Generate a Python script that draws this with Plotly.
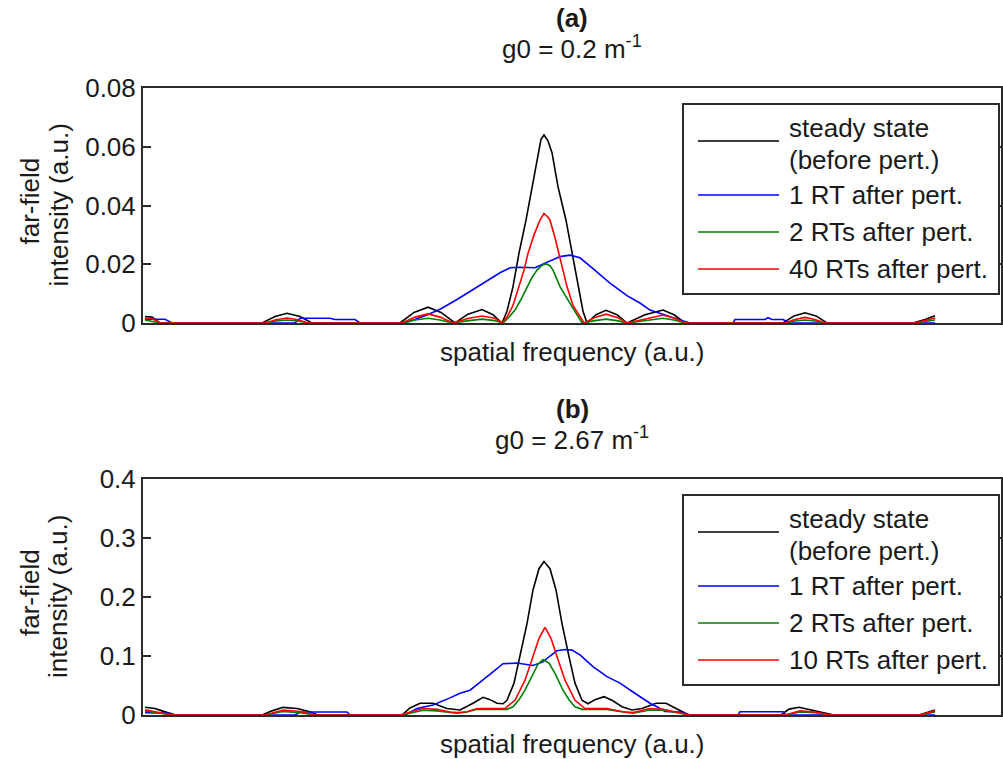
import plotly.graph_objects as go

# ---------------------------------------------------------------------------
# Far-field intensity profiles (arbitrary spatial-frequency units, 0 = beam axis)
# ---------------------------------------------------------------------------

# (a) g0 = 0.2 m^-1
steady_a_f = [-399, -392, -384, -282, -269, -257, -244, -232, -144, -130, -116, -103, -89,
              -76, -62, -51, -42, -37, -31, -25, -18, -12, -6, -3, 0, 4, 8, 14, 22, 28, 34,
              39, 43, 52, 62, 73, 83, 101, 119, 130, 141, 239, 250, 261, 272, 283, 369, 381, 391]
steady_a_i = [0.0022, 0.0020, 0, 0, 0.0022, 0.0033, 0.0022, 0, 0, 0.0036, 0.0054, 0.0036, 0,
              0.0030, 0.0046, 0.0028, 0, 0.004, 0.0124, 0.0238, 0.035, 0.0464, 0.058, 0.0625,
              0.064, 0.062, 0.058, 0.0464, 0.035, 0.0238, 0.0124, 0.004, 0, 0.0028, 0.0043,
              0.0028, 0, 0.0028, 0.0044, 0.0028, 0, 0, 0.0024, 0.0035, 0.0024, 0, 0, 0.0012,
              0.0025]

rt1_a_f = [-399, -379, -372, -249, -244, -214, -209, -189, -184, -139, -117, -104, -87, -71,
           -57, -44, -34, -24, -9, 3, 16, 26, 36, 49, 66, 83, 96, 106, 116, 126, 136, 146,
           189, 191, 221, 224, 228, 239, 246, 391]
rt1_a_i = [0.0013, 0.0013, 0, 0, 0.0016, 0.0016, 0.0012, 0.0012, 0, 0, 0.0027, 0.0047,
           0.0080, 0.0114, 0.0146, 0.0171, 0.0188, 0.0190, 0.0188, 0.0205, 0.0226, 0.0231,
           0.0222, 0.0185, 0.0136, 0.0093, 0.0068, 0.0044, 0.0032, 0.0020, 0.0010, 0, 0,
           0.0012, 0.0012, 0.0018, 0.0012, 0.0012, 0, 0]

rt2_a_f = [-399, -384, -279, -268, -257, -246, -236, -142, -129, -116, -104, -91, -75, -62,
           -49, -41, -35, -29, -23, -17, -12, -7, -2, 2, 6, 9, 13, 16, 21, 26, 32, 38, 51, 62,
           73, 83, 106, 119, 130, 141, 241, 251, 261, 271, 281, 371, 391]
rt2_a_i = [0.0010, 0, 0, 0.0007, 0.0010, 0.0007, 0, 0, 0.0010, 0.0016, 0.0010, 0, 0.0008,
           0.0013, 0.0008, 0, 0.002, 0.0044, 0.0080, 0.0124, 0.0155, 0.0180, 0.0197, 0.0201,
           0.0195, 0.0180, 0.0150, 0.0124, 0.0095, 0.0068, 0.0035, 0, 0.0008, 0.0013, 0.0008,
           0, 0.0010, 0.0016, 0.0010, 0, 0, 0.0007, 0.0010, 0.0007, 0, 0, 0.0010]

rt40_a_f = [-399, -392, -384, -279, -268, -257, -246, -236, -142, -129, -116, -104, -91, -75,
            -62, -49, -42, -37, -31, -25, -20, -16, -10, -4, 0, 4, 6, 11, 15, 19, 23, 29, 36,
            40, 51, 62, 73, 83, 106, 119, 130, 141, 241, 251, 261, 271, 281, 371, 391]
rt40_a_i = [0.0017, 0.0015, 0, 0, 0.0011, 0.0017, 0.0011, 0, 0, 0.0020, 0.0031, 0.0020, 0,
            0.0016, 0.0024, 0.0016, 0, 0.002, 0.006, 0.0124, 0.018, 0.0237, 0.030, 0.035,
            0.0373, 0.036, 0.035, 0.029, 0.0237, 0.018, 0.0124, 0.006, 0.002, 0, 0.0019,
            0.0030, 0.0019, 0, 0.0017, 0.0027, 0.0017, 0, 0, 0.0012, 0.0019, 0.0012, 0, 0,
            0.0017]

# (b) g0 = 2.67 m^-1
steady_b_f = [-399, -389, -382, -369, -282, -272, -261, -247, -234, -226, -142, -134, -124,
              -111, -97, -84, -71, -61, -54, -47, -41, -37, -30, -24, -17, -11, -5, 0, 6, 12,
              18, 25, 31, 38, 44, 51, 60, 68, 78, 88, 98, 112, 122, 135, 145, 237, 245, 255,
              268, 282, 290, 375, 391]
steady_b_i = [0.013, 0.011, 0.007, 0, 0, 0.007, 0.013, 0.011, 0.0056, 0, 0, 0.012, 0.020,
              0.020, 0.011, 0.0085, 0.020, 0.030, 0.026, 0.020, 0.019, 0.025, 0.054, 0.099,
              0.155, 0.212, 0.248, 0.260, 0.248, 0.212, 0.155, 0.099, 0.054, 0.025, 0.019,
              0.026, 0.031, 0.025, 0.014, 0.0085, 0.011, 0.020, 0.020, 0.0085, 0, 0, 0.010,
              0.013, 0.0085, 0.004, 0, 0, 0.0085]

rt1_b_f = [-399, -374, -369, -249, -244, -197, -194, -139, -127, -111, -94, -84, -74, -61,
           -51, -41, -27, -11, -1, 6, 13, 21, 28, 36, 49, 63, 76, 89, 106, 113, 121, 136, 146,
           194, 196, 239, 242, 391]
rt1_b_i = [0.004, 0.003, 0, 0, 0.005, 0.005, 0, 0, 0.011, 0.017, 0.029, 0.037, 0.042, 0.059,
           0.073, 0.087, 0.088, 0.084, 0.090, 0.100, 0.109, 0.111, 0.110, 0.102, 0.082,
           0.065, 0.054, 0.039, 0.020, 0.014, 0.006, 0.005, 0, 0, 0.0056, 0.0056, 0, 0]

rt2_b_f = [-399, -384, -372, -279, -261, -244, -229, -142, -132, -121, -107, -87, -77, -67,
           -44, -37, -31, -25, -19, -11, -6, -1, 5, 11, 19, 25, 31, 38, 63, 79, 89, 106, 119,
           136, 146, 241, 256, 271, 286, 376, 391]
rt2_b_i = [0.007, 0.003, 0, 0, 0.006, 0.004, 0, 0, 0.004, 0.008, 0.007, 0.003, 0.005, 0.0096,
           0.0096, 0.0096, 0.014, 0.026, 0.042, 0.0706, 0.086, 0.094, 0.088, 0.0706, 0.042,
           0.026, 0.014, 0.0096, 0.0096, 0.005, 0.003, 0.0085, 0.008, 0.003, 0, 0, 0.005,
           0.004, 0, 0, 0.005]

rt10_b_f = [-399, -384, -372, -279, -261, -244, -229, -144, -132, -121, -107, -94, -87, -77,
            -67, -47, -39, -29, -19, -11, -5, 1, 7, 13, 21, 31, 41, 63, 79, 89, 106, 119, 136,
            146, 241, 256, 271, 286, 376, 391]
rt10_b_i = [0.009, 0.004, 0, 0, 0.0085, 0.006, 0, 0, 0.006, 0.011, 0.0096, 0.005, 0.004,
            0.0056, 0.011, 0.011, 0.011, 0.025, 0.059, 0.099, 0.130, 0.1486, 0.130, 0.099,
            0.059, 0.025, 0.011, 0.011, 0.0056, 0.004, 0.011, 0.0096, 0.004, 0, 0, 0.007,
            0.005, 0, 0, 0.007]

panel_a_labels = ["steady state<br>(before pert.)", "1 RT after pert.",
                  "2 RTs after pert.", "40 RTs after pert."]
panel_b_labels = ["steady state<br>(before pert.)", "1 RT after pert.",
                  "2 RTs after pert.", "10 RTs after pert."]
panel_a_ticks = [0, 0.02, 0.04, 0.06, 0.08]
panel_a_ticktext = ["0", "0.02", "0.04", "0.06", "0.08"]
panel_b_ticks = [0, 0.1, 0.2, 0.3, 0.4]
panel_b_ticktext = ["0", "0.1", "0.2", "0.3", "0.4"]

# ---------------------------------------------------------------------------
# Figure geometry and styling
# ---------------------------------------------------------------------------
W, H = 1003, 759
FONT = "Liberation Sans, Arial, sans-serif"
INK = "#1a1a1a"
AXIS = "#2b2b2b"
COLORS = ["#000000", "#0000ff", "#008000", "#ff0000"]
FS = 26

def px(x):
    return x / W

def py(y):
    return 1 - y / H

PLOT_L, PLOT_R = 143, 1001
PANELS = [  # top, bottom pixel rows of each plotting box
    (88, 323),
    (479, 715),
]

fig = go.Figure()

series_a = [(steady_a_f, steady_a_i), (rt1_a_f, rt1_a_i), (rt2_a_f, rt2_a_i), (rt40_a_f, rt40_a_i)]
series_b = [(steady_b_f, steady_b_i), (rt1_b_f, rt1_b_i), (rt2_b_f, rt2_b_i), (rt10_b_f, rt10_b_i)]

for (f, i), name, c in zip(series_a, panel_a_labels, COLORS):
    fig.add_trace(go.Scatter(x=f, y=i, mode="lines", name=name.replace("<br>", " "),
                             line=dict(color=c, width=1.6), xaxis="x", yaxis="y",
                             showlegend=False))
for (f, i), name, c in zip(series_b, panel_b_labels, COLORS):
    fig.add_trace(go.Scatter(x=f, y=i, mode="lines", name=name.replace("<br>", " "),
                             line=dict(color=c, width=1.6), xaxis="x2", yaxis="y2",
                             showlegend=False))

xr = [PLOT_L - 544, PLOT_R - 544]
common_x = dict(range=xr, showticklabels=False, ticks="", showgrid=False, zeroline=False,
                showline=True, linecolor=AXIS, linewidth=2, mirror=True, automargin=False,
                domain=[px(PLOT_L), px(PLOT_R)])
common_y = dict(showgrid=False, zeroline=False, showline=True, linecolor=AXIS, linewidth=2,
                mirror="ticks", ticks="inside", ticklen=8, tickwidth=1.5, tickcolor=AXIS,
                automargin=False, tickfont=dict(family=FONT, size=FS, color=INK))

fig.update_layout(
    width=W, height=H, margin=dict(l=0, r=0, t=0, b=0, pad=0, autoexpand=False),
    paper_bgcolor="white", plot_bgcolor="white", showlegend=False,
    xaxis=dict(**common_x, anchor="y"),
    yaxis=dict(**common_y, range=[0, 0.08], tickvals=panel_a_ticks, ticktext=panel_a_ticktext,
               domain=[py(PANELS[0][1]), py(PANELS[0][0])], anchor="x"),
    xaxis2=dict(**common_x, anchor="y2"),
    yaxis2=dict(**common_y, range=[0, 0.4], tickvals=panel_b_ticks, ticktext=panel_b_ticktext,
                domain=[py(PANELS[1][1]), py(PANELS[1][0])], anchor="x2"),
)

annotations = []
shapes = []

def text(x, y, s, size=FS, angle=0, xanchor="center", bold=False):
    annotations.append(dict(
        x=px(x), y=py(y), xref="paper", yref="paper", text=f"<b>{s}</b>" if bold else s,
        showarrow=False, xanchor=xanchor, yanchor="middle", textangle=angle,
        font=dict(family=FONT, size=size, color=INK)))

titles = [("(a)", "g0 = 0.2 m<sup>-1</sup>"), ("(b)", "g0 = 2.67 m<sup>-1</sup>")]
cx = (PLOT_L + PLOT_R) / 2
for (top, bottom), (t1, t2), labels in zip(PANELS, titles, [panel_a_labels, panel_b_labels]):
    text(cx, top - 70, t1, size=FS, bold=True)
    text(cx, top - 41, t2)
    text(cx, bottom + 29, "spatial frequency (a.u.)")
    mid = (top + bottom) / 2
    text(30, mid - 4, "far-field", angle=-90)
    text(58, mid, "intensity (a.u.)", angle=-90)

    # legend box
    shapes.append(dict(type="rect", xref="paper", yref="paper",
                       x0=px(683), x1=px(999), y0=py(top + 16), y1=py(top + 206),
                       line=dict(color=AXIS, width=2), fillcolor="white", layer="above"))
    rows = [top + 53, top + 107, top + 144, top + 181]
    for k, (label, c, ry) in enumerate(zip(labels, COLORS, rows)):
        shapes.append(dict(type="line", xref="paper", yref="paper",
                           x0=px(698), x1=px(779), y0=py(ry), y1=py(ry),
                           line=dict(color=c, width=1.6), layer="above"))
        if k == 0:
            first, second = label.split("<br>")
            text(787, ry - 13, first, xanchor="left")
            text(787, ry + 19, second, xanchor="left")
        else:
            text(787, ry, label, xanchor="left")

fig.update_layout(annotations=annotations, shapes=shapes)
fig.write_html("out.html")
